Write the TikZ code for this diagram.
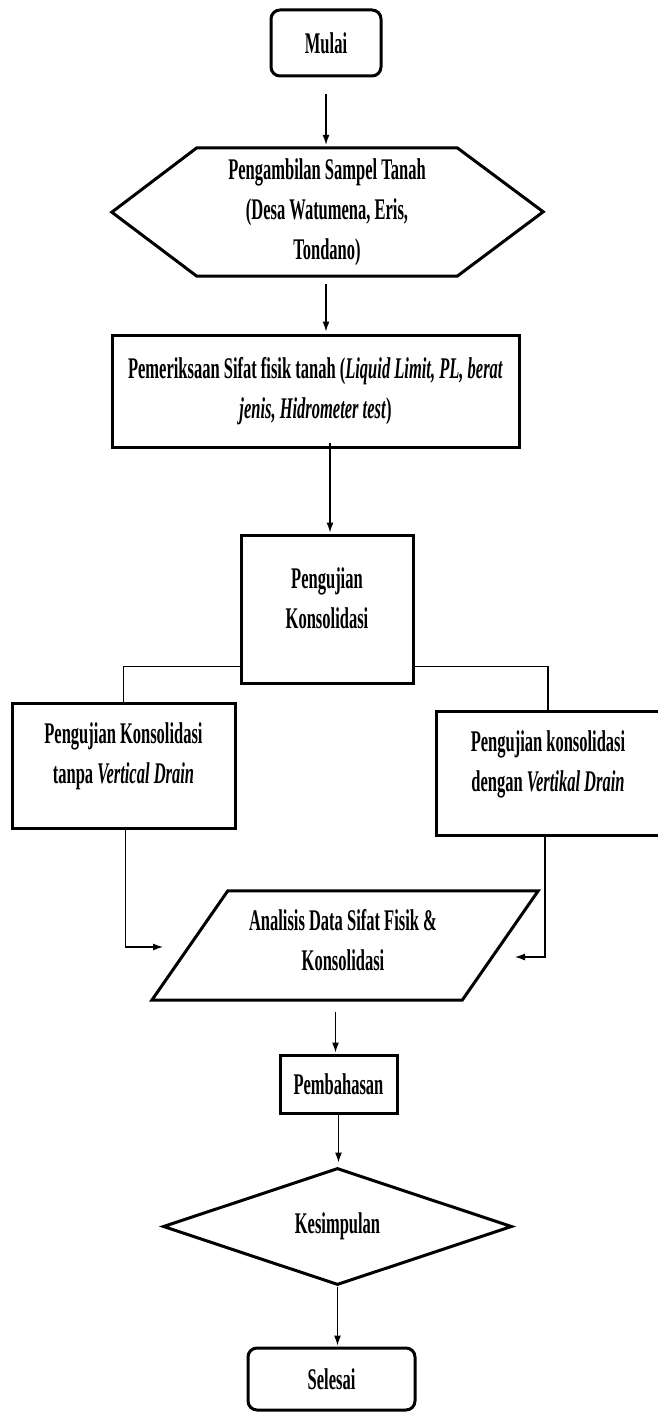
\documentclass[tikz,border=0pt]{standalone}
\usepackage{fontspec}
\setmainfont[FakeStretch=0.55]{Liberation Serif}
\usetikzlibrary{shapes.geometric,arrows.meta,calc}
\tikzset{
  border/.style={draw=black, line width=3pt, line join=miter},
  txt/.style={inner sep=0pt, align=center, font=\fontsize{30}{40}\selectfont\bfseries},
  boxnode/.style={txt, border, rectangle},
  roundbox/.style={boxnode, rounded corners=9pt},
  conn/.style={line width=1.2pt},
  arr/.style={conn, -{Latex[length=10pt,width=7pt]}}
}
\begin{document}
\begin{tikzpicture}[x=1pt,y=-1pt]
\useasboundingbox (0,0) rectangle (657,1412);
\fill[white] (0,0) rectangle (657,1412);

% Mulai
\node[roundbox, minimum width=110, minimum height=66] (mulai) at (326,43) {Mulai};

% Hexagon
\node[txt, minimum width=260, minimum height=128] (hex) at (327,212)
  {Pengambilan Sampel Tanah\\(Desa Watumena, Eris,\\Tondano)};
\draw[border] (hex.north west) -- (hex.north east) -- ++(86,64) -- (hex.south east)
  -- (hex.south west) -- ++(-85,-64) -- cycle;

% Pemeriksaan
\node[boxnode, minimum width=407, minimum height=112] (b3) at (315.5,391)
  {Pemeriksaan Sifat fisik tanah (\textit{Liquid Limit, PL, berat}\\\textit{jenis, Hidrometer test})};

% Pengujian Konsolidasi
\node[border, rectangle, minimum width=172, minimum height=148] (pk) at (327,609) {};
\node[txt] (pkt) at (327,598) {Pengujian\\Konsolidasi};

% Left box
\node[border, rectangle, minimum width=223, minimum height=125] (lb) at (123.5,765.5) {};
\node[txt] (lbt) at (123.5,756) {Pengujian Konsolidasi\\tanpa \textit{Vertical Drain}};

% Right box
\node[border, rectangle, minimum width=224, minimum height=124] (rb) at (548,773) {};
\node[txt] (rbt) at (548,764) {Pengujian konsolidasi\\dengan \textit{Vertikal Drain}};

% Parallelogram
\node[rectangle, inner sep=0pt, minimum width=310, minimum height=109] (para) at (345,945.5) {};
\draw[border] ($(para.north west)+(38,0)$) -- ($(para.north east)+(38,0)$)
  -- ($(para.south east)+(-38,0)$) -- ($(para.south west)+(-38,0)$) -- cycle;
\node[txt] (parat) at (343,940) {Analisis Data Sifat Fisik \&\\Konsolidasi};

% Pembahasan
\node[boxnode, minimum width=117, minimum height=58] (pb) at (338.5,1084) {Pembahasan};

% Kesimpulan
\node[txt, diamond, border, minimum width=349, minimum height=117] (kes) at (337.5,1226.5) {Kesimpulan};

% Selesai
\node[roundbox, minimum width=167, minimum height=62] (sel) at (331.5,1379) {Selesai};

% connectors
\coordinate (la) at (163,947);
\coordinate (ra) at (515,957);
\draw[arr] ($(mulai.south)+(0,17)$) -- ($(mulai.south |- hex.north)+(0,-3)$);
\draw[arr] ($(mulai.south |- hex.south)+(0,8)$) -- ($(mulai.south |- b3.north)+(0,-2)$);
\draw[arr] ($(b3.south -| pk.north)+(3,-6)$) -- ($(pk.north)+(3,-1)$);
\draw[conn] ($(pk.south west)+(0,-18)$) -| (lb.north);
\draw[conn] ($(pk.south east)+(0,-18)$) -| (rb.north);
\draw[arr] ($(lb.south)+(2,0)$) |- (la);
\draw[arr] ($(rb.south)+(-3,0)$) |- (ra);
\draw[arr] ($(para.south -| pb.north)+(-3,12)$) -- ($(pb.north)+(-3,-1)$);
\draw[arr] (pb.south) -- ($(pb.south |- kes.north)+(0,-4)$);
\draw[arr] (kes.south) -- ($(kes.south |- sel.north)+(0,-1)$);
\end{tikzpicture}
\end{document}
